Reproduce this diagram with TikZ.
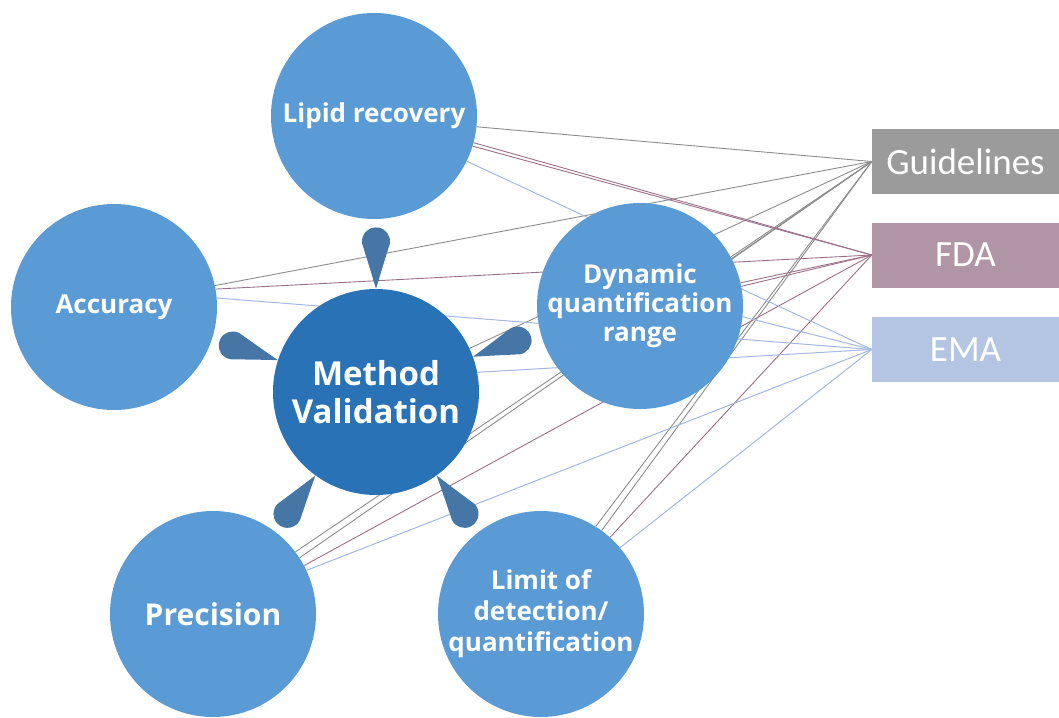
\documentclass[tikz,border=0pt]{standalone}
\usepackage{fontspec}
\setmainfont{Open Sans}
\newfontfamily\boxfont{Carlito}
\usetikzlibrary{backgrounds}
\definecolor{circblue}{HTML}{5B9BD5}
\definecolor{mvblue}{HTML}{2872B5}
\definecolor{dropblue}{HTML}{4676A6}
\definecolor{gdgray}{HTML}{9B9B9B}
\definecolor{fdamauve}{HTML}{B095A7}
\definecolor{emablue}{HTML}{B4C5E4}
\definecolor{lgray}{HTML}{8C8C8C}
\definecolor{lmauve}{HTML}{9C6F88}
\definecolor{lblue}{HTML}{A3B7E2}

\begin{document}
\begin{tikzpicture}[x=1pt, y=-1pt, line join=round, line cap=round,
	bubble/.style={circle, fill=circblue, minimum size=206pt, inner sep=0pt, text=white, align=center},
	guide/.style={fill=#1, minimum width=187pt, minimum height=65pt, inner sep=0pt, text=white, font=\boxfont\fontsize{37}{40}\selectfont},
	drop/.style={fill=dropblue},
	gline/.style={lgray, line width=.9pt},
	fline/.style={lmauve, line width=.9pt},
	eline/.style={lblue, line width=1pt}]
	\useasboundingbox (0,0) rectangle (1059,717);
	
	% circles
	\node[bubble, fill=mvblue, font=\bfseries\fontsize{33}{38}\selectfont] (mv) at (376,392) {Method\\Validation};
	\node[bubble, font=\bfseries\fontsize{26}{30}\selectfont] (lip) at (374,116) {Lipid recovery};
	\node[bubble, font=\bfseries\fontsize{26}{29}\selectfont] (acc) at (114,307) {Accuracy};
	\node[bubble, font=\bfseries\fontsize{26}{29}\selectfont] (dyn) at (640,306) {Dynamic\\quantification\\range};
	\node[bubble, font=\bfseries\fontsize{30}{32}\selectfont] (prec) at (213,614) {Precision};
	\node[bubble, font=\bfseries\fontsize{26}{31}\selectfont] (lim) at (541,614) {Limit of\\detection/\\quantification};
	
	% guideline boxes
	\node[guide=gdgray] (gd) at (965.5,161.5) {Guidelines};
	\node[guide=fdamauve] (fda) at (965.5,255) {FDA};
	\node[guide=emablue] (ema) at (965.5,349.5) {EMA};
	
	% drops
	\foreach \a in {90,162,20,-126,-54}
		\fill[drop, shift={(mv.\a)}, rotate=\a] (0,0) .. controls (20,6) .. (45,13.8)
			arc[start angle=100, end angle=-100, radius=14] .. controls (20,-6) .. (0,0) -- cycle;
	
	% connectors
	\begin{scope}[on background layer]
		\foreach \s in {lip.-6,acc.12,mv.25,prec.37,prec.33,dyn.27,lim.58,lim.54}
			\draw[gline] (\s) -- (gd.west);
		\foreach \s in {lip.-15,lip.-17,acc.10,dyn.13,dyn.11,prec.28,lim.48}
			\draw[fline] (\s) -- (fda.west);
		\foreach \s in {lip.-26,acc.5,mv.11,dyn.-6,prec.25,lim.40}
			\draw[eline] (\s) -- (ema.west);
	\end{scope}
\end{tikzpicture}
\end{document}
